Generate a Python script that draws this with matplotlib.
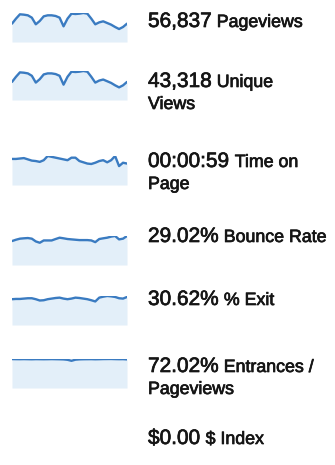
import matplotlib
matplotlib.use("Agg")
import matplotlib.pyplot as plt
import matplotlib.patheffects as pe
import numpy as np

plt.rcParams["font.family"] = ["Liberation Sans", "DejaVu Sans"]

# daily series behind each sparkline (30 days)
pageviews = [1540, 1960, 2325, 2295, 2240, 2045, 1485, 1765, 2155, 2240,
             2240, 2185, 2045, 1315, 1960, 2380, 2350, 2380, 2435, 2380,
             1960, 1485, 1650, 1735, 1595, 1455, 1260, 1090, 1260, 1540]
unique_views = [1166, 1496, 1782, 1760, 1716, 1562, 1122, 1342, 1650, 1716,
                1716, 1672, 1562, 990, 1496, 1826, 1804, 1826, 1870, 1826,
                1496, 1122, 1254, 1320, 1210, 1100, 946, 814, 946, 1166]
time_on_page = [62, 62, 63, 64, 61, 58, 57, 55, 59, 69,
                67, 65, 63, 61, 59, 65, 65, 57, 54, 51,
                50, 53, 57, 59, 54, 59, 69, 45, 53, 51]
bounce_rate = [26.9, 28.4, 29.6, 30.0, 30.3, 29.6, 26.5, 25.0, 27.6, 27.6,
               27.6, 29.2, 30.7, 30.0, 29.2, 28.8, 28.4, 28.0, 28.0, 28.0,
               27.6, 25.7, 29.2, 30.0, 30.7, 31.9, 32.6, 28.8, 29.6, 32.6]
pct_exit = [29.8, 30.1, 30.1, 30.5, 30.9, 30.9, 29.8, 28.3, 28.6, 29.8,
            30.5, 31.2, 31.6, 30.5, 29.8, 30.5, 31.6, 31.2, 30.5, 29.8,
            28.6, 27.2, 31.6, 32.7, 33.5, 33.1, 32.4, 30.9, 30.5, 32.4]
entrance_rate = [72.3, 72.1, 72.0, 72.2, 72.0, 71.8, 72.1, 72.0, 71.9, 72.0,
                 72.2, 72.0, 71.8, 71.5, 70.5, 68.0, 70.8, 71.6, 71.9, 72.0,
                 72.1, 71.8, 72.0, 72.3, 72.4, 72.5, 72.2, 72.0, 72.1, 71.5]

totals = ["56,837", "43,318", "00:00:59", "29.02%", "30.62%", "72.02%", "$0.00"]
metric_names = ["Pageviews", "Unique\nViews", "Time on\nPage", "Bounce Rate",
                "% Exit", "Entrances /\nPageviews", "$ Index"]
series = [pageviews, unique_views, time_on_page, bounce_rate, pct_exit,
          entrance_rate, None]

# layout in pixels (figure is 335 x 465)
W, H = 335, 465
spark_x0, spark_x1 = 12, 127
spark_h = 29
fill_bottom = [42, 100, 185, 265, 325, 388, None]
text_base = [27, 87, 167, 242, 305, 372, 444]
text_x = 148
line_step = 22

LINE = "#3a7bc1"
FILL = "#e3eff9"
INK = "#151515"

fig = plt.figure(figsize=(W / 100, H / 100), dpi=100)
fig.patch.set_facecolor("white")

for vals, bot in zip(series, fill_bottom):
    if vals is None:
        continue
    ax = fig.add_axes([spark_x0 / W, 1 - bot / H,
                       (spark_x1 - spark_x0) / W, spark_h / H])
    x = np.arange(len(vals))
    ax.fill_between(x, vals, 0, color=FILL, lw=0)
    ax.plot(x, vals, color=LINE, lw=1.7, solid_joinstyle="round",
            solid_capstyle="round")
    ax.set_xlim(0, len(vals) - 1)
    ax.set_ylim(0, max(vals))
    ax.axis("off")

fig.canvas.draw()
renderer = fig.canvas.get_renderer()

# a thin stroke thickens the glyphs a little
heavy = [pe.withStroke(linewidth=0.5, foreground=INK)]

for total, name, yb in zip(totals, metric_names, text_base):
    y = 1 - yb / H
    t = fig.text(text_x / W, y, total, fontsize=15, color=INK,
                 va="baseline", ha="left", path_effects=heavy)
    bb = t.get_window_extent(renderer)
    first, *rest = name.split("\n")
    fig.text((bb.x1 + 5) / W, y, first, fontsize=12.8, color=INK,
             va="baseline", ha="left", path_effects=heavy)
    for k, extra in enumerate(rest, start=1):
        fig.text(text_x / W, 1 - (yb + k * line_step) / H, extra,
                 fontsize=12.8, color=INK, va="baseline", ha="left",
                 path_effects=heavy)

fig.savefig("out.png", dpi=100)
